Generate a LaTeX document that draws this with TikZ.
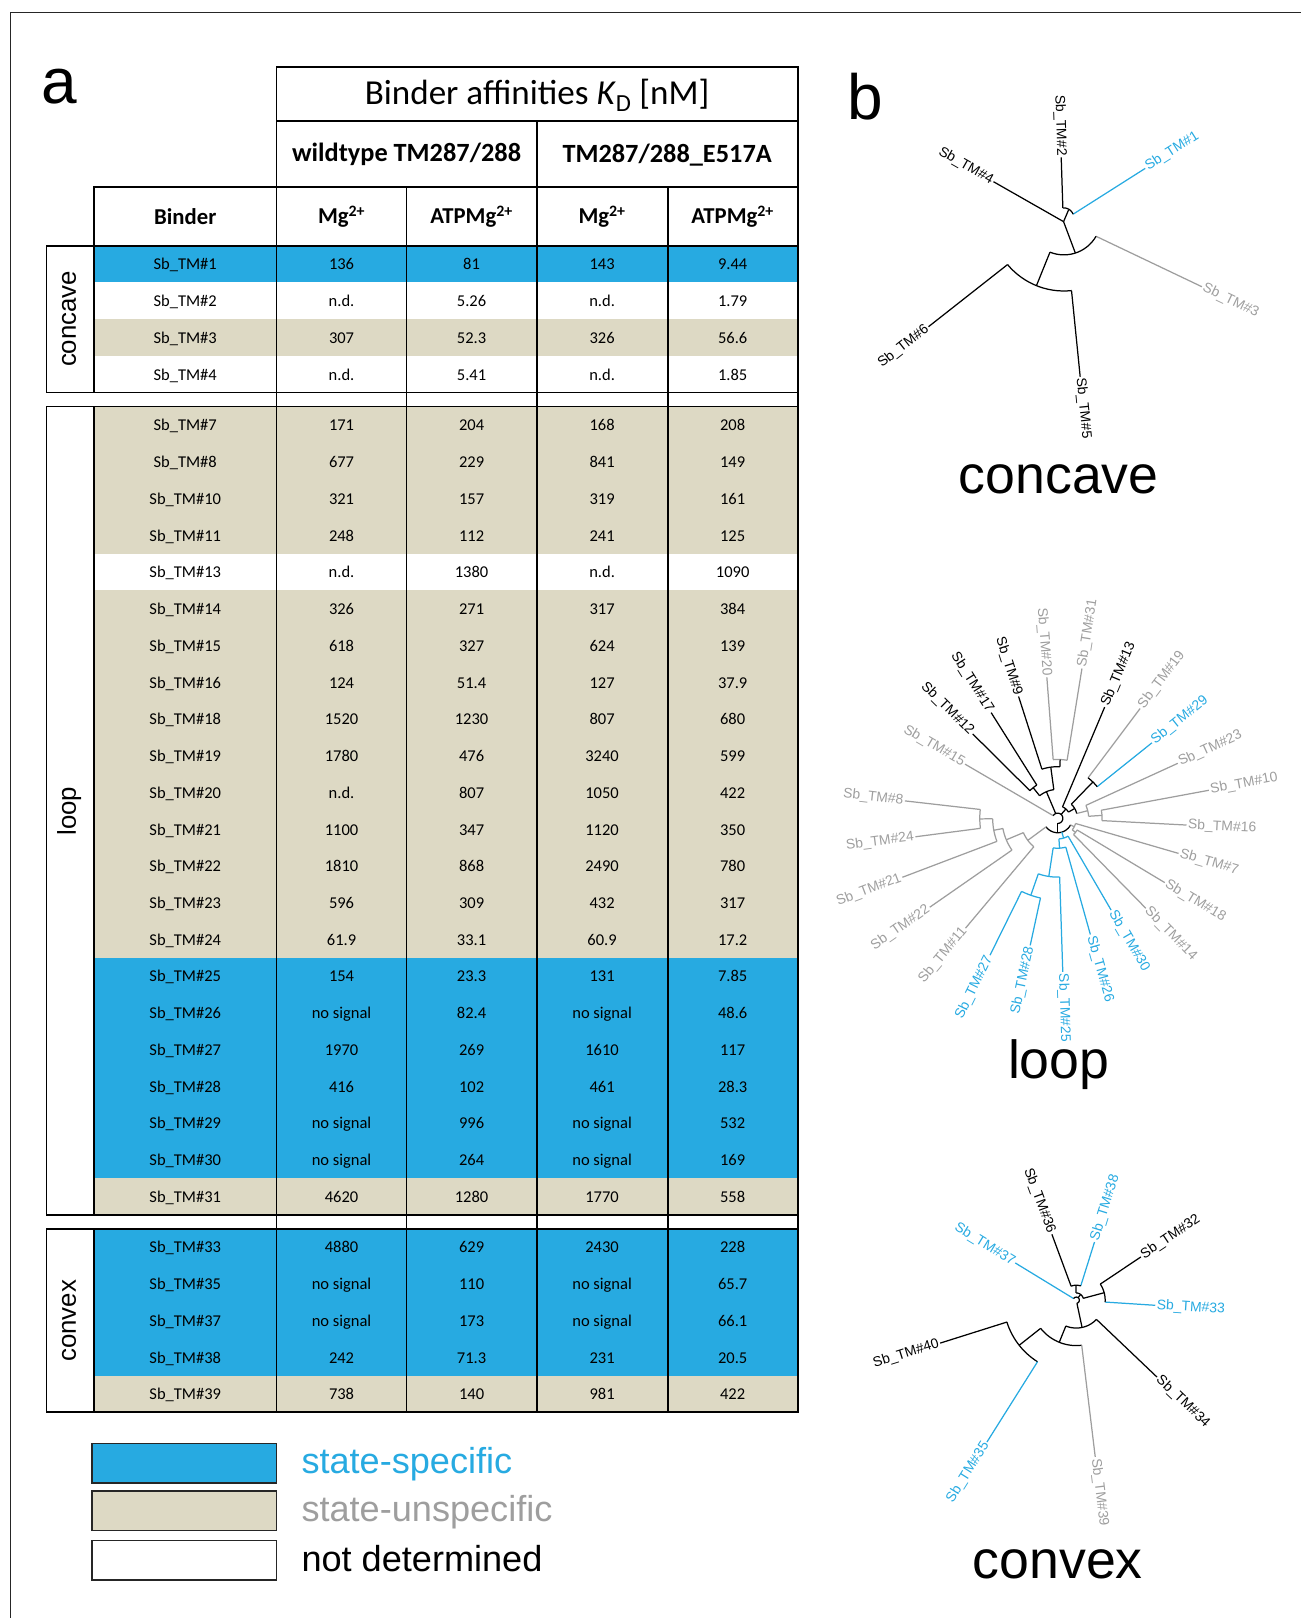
\documentclass[tikz,border=0pt]{standalone}
\usepackage{fontspec}
\setmainfont{Liberation Sans}
\newfontfamily\calib{Carlito}
\usetikzlibrary{calc}
\definecolor{sblue}{RGB}{39,170,225}
\definecolor{stan}{RGB}{221,217,196}
\definecolor{sgray}{RGB}{158,158,158}
\tikzset{
 tbl/.style={line width=1.8pt, line cap=rect},
 tree/.style={line width=1.2pt, line join=round},
 leaflab/.style={font=\fontsize{13.5}{15}\selectfont, inner sep=1pt},
 cell/.style={font=\calib\fontsize{16}{18}\selectfont, inner sep=0pt, anchor=base},
 legbox/.style={draw=black!85, line width=1.3pt, minimum width=179pt, minimum height=38pt, inner sep=0pt},
 legtxt/.style={font=\fontsize{35}{40}\selectfont, inner sep=0pt, anchor=base west},
 title/.style={font=\fontsize{52}{60}\selectfont, inner sep=0pt, anchor=base},
 grp/.style={font=\fontsize{25}{30}\selectfont, rotate=90, inner sep=0pt},
}
% table row group
\newcommand\tgroup[3]{%
 \foreach \nm/\fl/\va/\vb/\vc/\vd [count=\i] in {#3} {%
   \pgfmathsetmacro\myyt{#1+(\i-1)*35.6}%
   \pgfmathsetmacro\myyb{\myyt+35.6}%
   \pgfmathsetmacro\myyc{\myyt+17.8+5.8}%
   \fill[\fl] (91,\myyt) rectangle (773,\myyb);
   \node[cell] (#2-\i-0) at (179.5,\myyc) {Sb\_TM\#\nm};
   \node[cell] (#2-\i-1) at (331,\myyc) {\va};
   \node[cell] (#2-\i-2) at (457,\myyc) {\vb};
   \node[cell] (#2-\i-3) at (583.5,\myyc) {\vc};
   \node[cell] (#2-\i-4) at (710,\myyc) {\vd};
 }}
% polar tree helpers: centre x, centre y, ...
\newcommand\tarc[6]{\draw[tree,#6] plot[domain=#4:#5,samples=16] ({#1+#3*cos(\x)},{#2+#3*sin(\x)});}
\newcommand\trad[6]{\draw[tree,#6] ({#1+#3*cos(#5)},{#2+#3*sin(#5)}) -- ({#1+#4*cos(#5)},{#2+#4*sin(#5)});}
\newcommand\tleaf[8]{%
  \pgfmathtruncatemacro\myside{cos(#3)>=0 ? 1 : 0}%
  \ifnum\myside=1 \def\myanch{west}\pgfmathsetmacro\myrot{-(#3)}\else\def\myanch{east}\pgfmathsetmacro\myrot{180-(#3)}\fi
  \draw[tree,#6] ({#1+#4*cos(#3)},{#2+#4*sin(#3)}) -- ({#1+#5*cos(#3)},{#2+#5*sin(#3)}) node[leaflab,text=#6,anchor=\myanch,rotate=\myrot] (#7) {#8};}
\newcommand\tleafxy[9]{\draw[tree,#5] (#1,#2) -- (#3,#4) node[leaflab,text=#5,anchor=#6,rotate=#7] (#8) {#9};}

\begin{document}
\begin{tikzpicture}[x=1pt,y=-1pt]
\useasboundingbox (0,0) rectangle (1261,1568);
\draw[line width=1pt,black!85] (10,1568) -- (10,12) -- (1261,12);

% ---------------- panel a ----------------
\node[font=\fontsize{62}{70}\selectfont, inner sep=0pt, anchor=base west] (pa) at (40,100) {a};

\tgroup{238}{cc}{1/sblue/136/81/143/9.44, 2/white/n.d./5.26/n.d./1.79, 3/stan/307/52.3/326/56.6, 4/white/n.d./5.41/n.d./1.85}
\tgroup{394}{lp}{7/stan/171/204/168/208, 8/stan/677/229/841/149, 10/stan/321/157/319/161, 11/stan/248/112/241/125, 13/white/n.d./1380/n.d./1090, 14/stan/326/271/317/384, 15/stan/618/327/624/139, 16/stan/124/51.4/127/37.9, 18/stan/1520/1230/807/680, 19/stan/1780/476/3240/599, 20/stan/n.d./807/1050/422, 21/stan/1100/347/1120/350, 22/stan/1810/868/2490/780, 23/stan/596/309/432/317, 24/stan/61.9/33.1/60.9/17.2, 25/sblue/154/23.3/131/7.85, 26/sblue/no signal/82.4/no signal/48.6, 27/sblue/1970/269/1610/117, 28/sblue/416/102/461/28.3, 29/sblue/no signal/996/no signal/532, 30/sblue/no signal/264/no signal/169, 31/stan/4620/1280/1770/558}
\tgroup{1190.6}{cv}{33/sblue/4880/629/2430/228, 35/sblue/no signal/110/no signal/65.7, 37/sblue/no signal/173/no signal/66.1, 38/sblue/242/71.3/231/20.5, 39/stan/738/140/981/422}

% header
\draw[tbl] (268,65) rectangle (773,181);
\draw[tbl] (268,117) -- (773,117);
\draw[tbl] (520,117) -- (520,181);
\draw[tbl] (91,181) -- (773,181);
\draw[tbl] (91,181) -- (91,238);
\foreach \xx in {268,394,520,647,773} \draw[tbl] (\xx,181) -- (\xx,1368.6);
\foreach \yy in {238,380.4,394,1177.2,1190.6,1368.6} \draw[tbl] (45,\yy) -- (773,\yy);
\draw[tbl] (45,238) rectangle (91,380.4);
\draw[tbl] (45,394) rectangle (91,1177.2);
\draw[tbl] (45,1190.6) rectangle (91,1368.6);

\node[font=\calib\fontsize{34}{38}\selectfont, inner sep=0pt] (h1) at (520.5,92) {Binder affinities \textit{K}\textsubscript{D} [nM]};
\node[font=\calib\bfseries\fontsize{25.5}{30}\selectfont, inner sep=0pt] (h2) at (394,150) {wildtype TM287/288};
\node[font=\calib\bfseries\fontsize{25.5}{30}\selectfont, inner sep=0pt] (h3) at (646.5,150) {TM287/288\_E517A};
\node[font=\calib\bfseries\fontsize{22}{26}\selectfont, inner sep=0pt] (h4) at (179.5,210) {Binder};
\node[font=\calib\bfseries\fontsize{22}{26}\selectfont, inner sep=0pt] (h5) at (331,210) {Mg\textsuperscript{2+}};
\node[font=\calib\bfseries\fontsize{22}{26}\selectfont, inner sep=0pt] (h6) at (457,210) {ATPMg\textsuperscript{2+}};
\node[font=\calib\bfseries\fontsize{22}{26}\selectfont, inner sep=0pt] (h7) at (583.5,210) {Mg\textsuperscript{2+}};
\node[font=\calib\bfseries\fontsize{22}{26}\selectfont, inner sep=0pt] (h8) at (710,210) {ATPMg\textsuperscript{2+}};

\node[grp] (g1) at (67,309) {concave};
\node[grp] (g2) at (67,786) {loop};
\node[grp] (g3) at (67,1280) {convex};

% legend
\node[legbox, fill=sblue] (lb1) at (178.5,1418) {};
\node[legbox, fill=stan] (lb2) at (178.5,1464) {};
\node[legbox, fill=white] (lb3) at (178.5,1512) {};
\node[legtxt, text=sblue] (lt1) at (292,1428) {state-specific};
\node[legtxt, text=sgray] (lt2) at (292,1474) {state-unspecific};
\node[legtxt] (lt3) at (292,1523) {not determined};

% ---------------- panel b ----------------
\node[font=\fontsize{62}{70}\selectfont, inner sep=0pt, anchor=base west] (pb) at (821,116) {b};

% concave tree
\tleafxy{1030}{201.5}{1028.4}{152.5}{black}{east}{-88.1}{k2}{Sb\_TM\#2}
\tleafxy{1039.9}{207.6}{1109.8}{163.2}{sblue}{west}{32.4}{k1}{Sb\_TM\#1}
\tleafxy{1030.7}{214.8}{962.8}{176.1}{black}{east}{-29.7}{k4}{Sb\_TM\#4}
\tleafxy{1062.2}{229}{1164.8}{277.9}{sgray}{west}{-25.5}{k3}{Sb\_TM\#3}
\tleafxy{976.4}{256.4}{899.8}{316.6}{black}{east}{38.2}{k6}{Sb\_TM\#6}
\tleafxy{1038.4}{281.6}{1046.8}{365.1}{black}{west}{-84.3}{k5}{Sb\_TM\#5}
\draw[tree] (1030.7,214.8) -- (1035.5,203.5);
\tarc{1031}{211}{9.5}{-96}{-21}{black}
\draw[tree] (1030.7,214.8) -- (1042.1,245.2);
\tarc{1031}{211}{36}{30}{112}{black}
\trad{1031}{211}{36}{71}{112}{black}
\tarc{1031}{211}{71}{84}{140.3}{black}
\node[title] (t1) at (1026,478) {concave};

% loop tree
\def\tcx{1025}\def\tcy{793}
\tleaf{\tcx}{\tcy}{-94.4}{57}{137}{sgray}{l20}{Sb\_TM\#20}
\tleaf{\tcx}{\tcy}{-80.8}{57}{147}{sgray}{l31}{Sb\_TM\#31}
\tarc{\tcx}{\tcy}{57}{-94.4}{-80.8}{sgray}
\trad{\tcx}{\tcy}{50}{57}{-87.6}{black}
\tleaf{\tcx}{\tcy}{-107.8}{50}{124}{black}{l9}{Sb\_TM\#9}
\tarc{\tcx}{\tcy}{50}{-107.8}{-87.6}{black}
\trad{\tcx}{\tcy}{28}{50}{-97.7}{black}
\tleaf{\tcx}{\tcy}{-122.2}{38}{121}{black}{l17}{Sb\_TM\#17}
\tleaf{\tcx}{\tcy}{-135.2}{38}{116}{black}{l12}{Sb\_TM\#12}
\tarc{\tcx}{\tcy}{38}{-135.2}{-122.2}{black}
\trad{\tcx}{\tcy}{28}{38}{-128.7}{black}
\tarc{\tcx}{\tcy}{28}{-128.7}{-97.7}{black}
\trad{\tcx}{\tcy}{5}{28}{-113}{black}
\tleaf{\tcx}{\tcy}{-149.7}{5}{104}{sgray}{l15}{Sb\_TM\#15}
\tleaf{\tcx}{\tcy}{-67.1}{12}{117}{black}{l13}{Sb\_TM\#13}
\tleaf{\tcx}{\tcy}{-53.1}{49}{133}{sgray}{l19}{Sb\_TM\#19}
\tleaf{\tcx}{\tcy}{-38.7}{49}{117}{sblue}{l29}{Sb\_TM\#29}
\tarc{\tcx}{\tcy}{49}{-53.1}{-38.7}{black}
\trad{\tcx}{\tcy}{19}{49}{-45.9}{black}
\tleaf{\tcx}{\tcy}{-24.6}{30}{128}{sgray}{l23}{Sb\_TM\#23}
\tleaf{\tcx}{\tcy}{-10.5}{43}{149}{sgray}{l10}{Sb\_TM\#10}
\tleaf{\tcx}{\tcy}{3}{43}{125}{sgray}{l16}{Sb\_TM\#16}
\tarc{\tcx}{\tcy}{43}{-10.5}{3}{sgray}
\trad{\tcx}{\tcy}{30}{43}{-3.75}{sgray}
\tarc{\tcx}{\tcy}{30}{-24.6}{-3.75}{sgray}
\trad{\tcx}{\tcy}{19}{30}{-14.2}{sgray}
\tarc{\tcx}{\tcy}{19}{-45.9}{-14.2}{black}
\trad{\tcx}{\tcy}{12}{19}{-30}{black}
\tarc{\tcx}{\tcy}{12}{-67.1}{-30}{black}
\trad{\tcx}{\tcy}{5}{12}{-48.5}{black}
\tarc{\tcx}{\tcy}{5}{-149.7}{90}{black}
\trad{\tcx}{\tcy}{5}{14}{90}{black}
\tarc{\tcx}{\tcy}{14}{27.2}{143.6}{black}
\tleaf{\tcx}{\tcy}{16.2}{18}{122}{sgray}{l7}{Sb\_TM\#7}
\tleaf{\tcx}{\tcy}{31}{22}{121}{sgray}{l18}{Sb\_TM\#18}
\tleaf{\tcx}{\tcy}{45.6}{22}{122}{sgray}{l14}{Sb\_TM\#14}
\tarc{\tcx}{\tcy}{22}{31}{45.6}{sgray}
\trad{\tcx}{\tcy}{18}{22}{38.3}{sgray}
\tarc{\tcx}{\tcy}{18}{16.2}{38.3}{sgray}
\trad{\tcx}{\tcy}{14}{18}{27.2}{sgray}
\tleaf{\tcx}{\tcy}{59.8}{20}{103}{sblue}{l30}{Sb\_TM\#30}
\tarc{\tcx}{\tcy}{20}{59.8}{86.5}{sblue}
\trad{\tcx}{\tcy}{14}{20}{73.4}{sblue}
\tleaf{\tcx}{\tcy}{74.3}{29}{117}{sblue}{l26}{Sb\_TM\#26}
\tarc{\tcx}{\tcy}{29}{74.3}{98.7}{sblue}
\trad{\tcx}{\tcy}{20}{29}{86.5}{sblue}
\tleaf{\tcx}{\tcy}{88.1}{57}{149}{sblue}{l25}{Sb\_TM\#25}
\tarc{\tcx}{\tcy}{57}{88.1}{109.25}{sblue}
\trad{\tcx}{\tcy}{29}{57}{98.7}{sblue}
\tleaf{\tcx}{\tcy}{102.2}{79}{126}{sblue}{l28}{Sb\_TM\#28}
\tleaf{\tcx}{\tcy}{116.3}{79}{148}{sblue}{l27}{Sb\_TM\#27}
\tarc{\tcx}{\tcy}{79}{102.2}{116.3}{sblue}
\trad{\tcx}{\tcy}{57}{79}{109.25}{sblue}
\tleaf{\tcx}{\tcy}{130}{36}{139}{sgray}{l11}{Sb\_TM\#11}
\tarc{\tcx}{\tcy}{36}{130}{157.3}{sgray}
\trad{\tcx}{\tcy}{14}{36}{143.6}{sgray}
\tleaf{\tcx}{\tcy}{145.2}{54}{151}{sgray}{l22}{Sb\_TM\#22}
\tarc{\tcx}{\tcy}{54}{145.2}{169.4}{sgray}
\trad{\tcx}{\tcy}{36}{54}{157.3}{sgray}
\tleaf{\tcx}{\tcy}{159.2}{63}{161}{sgray}{l21}{Sb\_TM\#21}
\tarc{\tcx}{\tcy}{63}{159.2}{179.55}{sgray}
\trad{\tcx}{\tcy}{54}{63}{169.4}{sgray}
\tleaf{\tcx}{\tcy}{172.6}{75.5}{139}{sgray}{l24}{Sb\_TM\#24}
\tleaf{\tcx}{\tcy}{186.5}{75.5}{149}{sgray}{l8}{Sb\_TM\#8}
\tarc{\tcx}{\tcy}{75.5}{172.6}{186.5}{sgray}
\trad{\tcx}{\tcy}{63}{75.5}{179.55}{sgray}
\node[title] (t2) at (1026,1045) {loop};

% convex tree
\def\tcx{1043}\def\tcy{1260}
\tleaf{\tcx}{\tcy}{-110.3}{14.5}{68.1}{black}{v36}{Sb\_TM\#36}
\tleaf{\tcx}{\tcy}{-72.6}{14.5}{59.1}{sblue}{v38}{Sb\_TM\#38}
\tarc{\tcx}{\tcy}{14.5}{-110.3}{-72.6}{black}
\trad{\tcx}{\tcy}{7}{14.5}{-91.5}{black}
\tleaf{\tcx}{\tcy}{-33.8}{28}{75.3}{black}{v32}{Sb\_TM\#32}
\tleaf{\tcx}{\tcy}{3.7}{28}{76.7}{sblue}{v33}{Sb\_TM\#33}
\tarc{\tcx}{\tcy}{28}{-33.8}{3.7}{black}
\trad{\tcx}{\tcy}{7}{28}{-15}{black}
\tarc{\tcx}{\tcy}{7}{-91.5}{-15}{black}
\trad{\tcx}{\tcy}{3}{7}{-53}{black}
\tleaf{\tcx}{\tcy}{-148.6}{3}{69.3}{sblue}{v37}{Sb\_TM\#37}
\tarc{\tcx}{\tcy}{3}{-148.6}{78}{black}
\trad{\tcx}{\tcy}{3}{27}{78}{black}
\tarc{\tcx}{\tcy}{27}{43.6}{112}{black}
\tleaf{\tcx}{\tcy}{43.6}{27}{108}{black}{v34}{Sb\_TM\#34}
\trad{\tcx}{\tcy}{27}{44}{112}{black}
\tarc{\tcx}{\tcy}{44}{83.1}{141.7}{black}
\tleaf{\tcx}{\tcy}{83.1}{44}{153}{sgray}{v39}{Sb\_TM\#39}
\trad{\tcx}{\tcy}{44}{70.5}{141.7}{black}
\tarc{\tcx}{\tcy}{70.5}{122.2}{162.5}{black}
\tleaf{\tcx}{\tcy}{162.5}{70.5}{138.3}{black}{v40}{Sb\_TM\#40}
\tleaf{\tcx}{\tcy}{122.2}{70.5}{162.4}{sblue}{v35}{Sb\_TM\#35}
\node[title] (t3) at (1025,1530) {convex};
\end{tikzpicture}
\end{document}
